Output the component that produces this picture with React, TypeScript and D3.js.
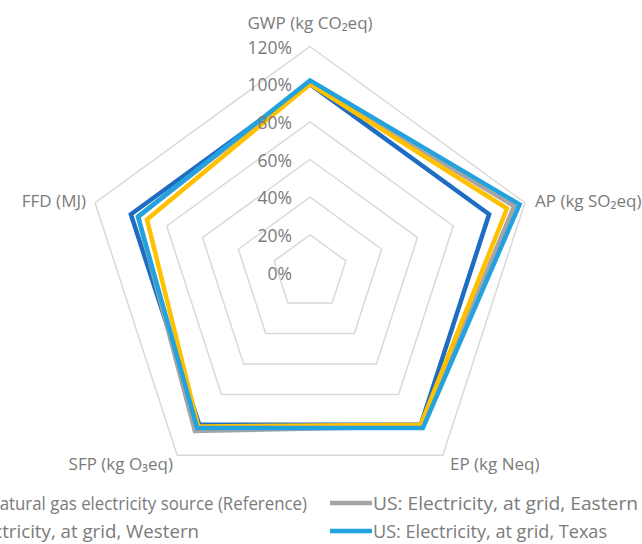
import * as d3 from 'd3';
import * as React from 'react';

const WIDTH = 642;
const HEIGHT = 544;

const axes = ['GWP (kg CO₂eq)', 'AP (kg SO₂eq)', 'EP (kg Neq)', 'SFP (kg O₃eq)', 'FFD (MJ)'];
const ticks = [0, 0.2, 0.4, 0.6, 0.8, 1.0, 1.2];

const seriesNames = [
  'Natural gas electricity source (Reference)',
  'US: Electricity, at grid, Eastern',
  'US: Electricity, at grid, Western',
  'US: Electricity, at grid, Texas',
];
const seriesColors = ['#1f6dc2', '#a5a5a5', '#ffc000', '#22a2de'];

const reference = [1.0, 1.0, 1.0, 1.0, 1.0];
const eastern = [1.01, 1.14, 1.01, 1.04, 0.96];
const western = [1.0, 1.1, 1.0, 1.01, 0.91];
const texas = [1.02, 1.17, 1.02, 1.02, 0.96];
const seriesValues = [reference, eastern, western, texas];

const FONT = '"Open Sans", sans-serif';
const TEXT = '#7b7b7b';
const FS = 17;
const LEGEND_FS = 18;

const cx = 310;
const cy = 272.5;

// legend boxes (x of text start, rendered text width) - left column runs off the page
const legendLayout = [
  { x: -13, w: 320 },
  { x: 373, w: 265 },
  { x: -66, w: 265 },
  { x: 373, w: 234 },
];

const App = () => {
  const r = d3.scaleLinear().domain([0, 1.2]).range([0, 226]);
  const angle = (i: number) => (i * 2 * Math.PI) / axes.length;

  const radial = d3
    .lineRadial<number>()
    .angle((d, i) => angle(i))
    .radius(d => r(d))
    .curve(d3.curveLinearClosed);

  const ring = (v: number) => radial(axes.map(() => v)) as string;

  // label anchors around the outer ring
  const labelPos = [
    { x: cx, y: 29, anchor: 'middle' },
    { x: 535, y: 207, anchor: 'start' },
    { x: 450, y: 470, anchor: 'start' },
    { x: 173, y: 470, anchor: 'end' },
    { x: 86, y: 207, anchor: 'end' },
  ];

  return (
    <svg
      width={WIDTH}
      height={HEIGHT}
      style={{ position: 'absolute', left: 0, top: 0, background: '#fff' }}
    >
      <g transform={`translate(${cx},${cy})`}>
        {ticks.slice(1).map(t => (
          <path key={t} d={ring(t)} fill="none" stroke="#d9d9d9" strokeWidth={1.5} />
        ))}
        {seriesValues.map((vals, si) => (
          <path
            key={si}
            d={radial(vals) as string}
            fill="none"
            stroke={seriesColors[si]}
            strokeWidth={4.5}
            strokeLinejoin="miter"
          />
        ))}
        {ticks.map(t => (
          <text
            key={t}
            x={-18}
            y={-r(t)}
            textAnchor="end"
            dominantBaseline="central"
            fontFamily={FONT}
            fontSize={FS + 0.5}
            fill={TEXT}
          >
            {d3.format('.0%')(t)}
          </text>
        ))}
      </g>
      {axes.map((a, i) => (
        <text
          key={a}
          x={labelPos[i].x}
          y={labelPos[i].y}
          textAnchor={labelPos[i].anchor}
          fontFamily={FONT}
          fontSize={FS}
          fill={TEXT}
        >
          {a}
        </text>
      ))}
      {seriesNames.map((name, i) => {
        const row = Math.floor(i / 2);
        const y = 503 + row * 28;
        const { x, w } = legendLayout[i];
        return (
          <g key={name}>
            <line x1={x - 43} x2={x - 1} y1={y} y2={y} stroke={seriesColors[i]} strokeWidth={4.5} />
            <text
              x={x}
              y={y}
              dominantBaseline="central"
              fontFamily={FONT}
              fontSize={LEGEND_FS}
              fill={TEXT}
              textLength={w}
              lengthAdjust="spacingAndGlyphs"
            >
              {name}
            </text>
          </g>
        );
      })}
    </svg>
  );
};

export default App;
